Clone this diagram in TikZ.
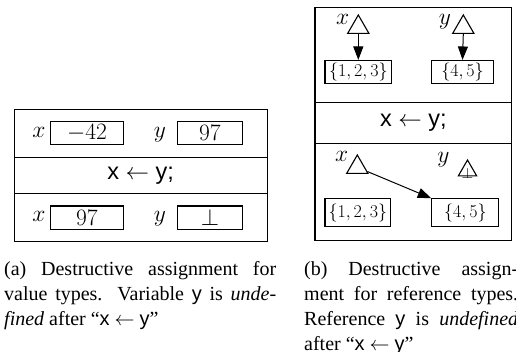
\RequirePackage{fix-cm}
\documentclass[tikz,border=0pt]{standalone}
\usepackage{fontspec}
\setmainfont{Liberation Serif}
\setsansfont{Liberation Sans}
\usetikzlibrary{arrows.meta,shapes.geometric}
\tikzset{
  rowbox/.style={draw, line width=1.3pt, inner sep=0pt},
  cell/.style={draw, line width=1.1pt, inner sep=0pt},
  lbl/.style={inner sep=0pt, anchor=base},
  setnode/.style={cell, font=\fontsize{18}{20}\selectfont},
  tri/.style={draw, line width=1.1pt, regular polygon, regular polygon sides=3, minimum size=24.6pt, inner sep=0pt},
  arr/.style={line width=1pt, -{Triangle[length=13.5pt,width=10pt]}},
  captext/.style={inner sep=0pt, anchor=base west, font=\fontsize{20}{25}\selectfont}
}
\begin{document}
\begin{tikzpicture}[x=1pt,y=-1pt, font=\fontsize{23.5}{27}\selectfont]
\useasboundingbox (0,0) rectangle (516,352);
\clip (0,0) rectangle (516,352);
% ---------- (a) ----------
\node[rowbox, minimum width=253pt, minimum height=48pt] (a1) at (140.7,133.3) {};
\node[rowbox, minimum width=253pt, minimum height=36pt] (a2) at (140.7,175.3) {\textsf{x $\leftarrow$ y;}};
\node[rowbox, minimum width=253pt, minimum height=48.4pt] (a3) at (140.7,217.5) {};
\node[lbl] (ax1) at (39,137.5) {$x$};
\node[cell, minimum width=72.6pt, minimum height=23.3pt] (av1) at (87,133.3) {$-42$};
\node[lbl] (ay1) at (160,137.5) {$y$};
\node[cell, minimum width=64.6pt, minimum height=23.3pt] (aw1) at (210,133.3) {$97$};
\node[lbl] (ax3) at (39,221.5) {$x$};
\node[cell, minimum width=72.6pt, minimum height=23.3pt] (av3) at (87,217.7) {$97$};
\node[lbl] (ay3) at (160,221.5) {$y$};
\node[cell, minimum width=64.6pt, minimum height=23.3pt] (aw3) at (210,217.7) {$\bot$};
% ---------- (b) ----------
\node[rowbox, minimum width=196.7pt, minimum height=95.4pt] (b1) at (413.3,55) {};
\node[rowbox, minimum width=196.7pt, minimum height=40.6pt] (b2) at (413.3,123) {\textsf{x $\leftarrow$ y;}};
\node[rowbox, minimum width=196.7pt, minimum height=97.2pt] (b3) at (413.3,191.9) {};
% top
\node[tri] (tx1) at (358.3,27.3) {};
\node[lbl] (lx1) at (342.7,25) {$x$};
\node[tri] (ty1) at (463.3,27.3) {};
\node[lbl] (ly1) at (445,25) {$y$};
\node[setnode, minimum width=66.7pt, minimum height=23pt] (s1) at (358.3,72) {$\{1,2,3\}$};
\node[setnode, minimum width=62pt, minimum height=23pt] (t1) at (462.5,72) {$\{4,5\}$};
\draw[arr] (tx1.south) -- (s1.north);
\draw[arr] (ty1.south) -- (t1.north);
% bottom
\node[tri] (tx3) at (357.3,167.3) {};
\node[lbl] (lx3) at (341.7,161.5) {$x$};
\node[tri, minimum size=21.2pt, label={[inner sep=0pt, yshift=-3pt, font=\fontsize{15}{17}\selectfont]center:$\bot$}] (ty3) at (467.5,170.6) {};
\node[lbl] (ly3) at (443.5,162.5) {$y$};
\node[setnode, minimum width=65.7pt, minimum height=28pt] (s3) at (357.8,212.8) {$\{1,2,3\}$};
\node[setnode, minimum width=67pt, minimum height=28pt] (t3) at (465.3,212.8) {$\{4,5\}$};
\draw[arr] (tx3) -- (t3.north west);
% ---------- captions ----------
\node[captext] (capa) at (4,276) {\parbox[t]{272pt}{(a) Destructive assignment for\linebreak value types. Variable \textsf{y} is \emph{unde-}\linebreak\emph{fined} after ``\textsf{x} $\leftarrow$ \textsf{y}''}};
\node[captext] (capb) at (304,276) {\parbox[t]{214pt}{(b) Destructive assign-\linebreak ment for reference types.\linebreak Reference \textsf{y} is \emph{undefined}\linebreak after ``\textsf{x} $\leftarrow$ \textsf{y}''}};
\end{tikzpicture}
\end{document}
